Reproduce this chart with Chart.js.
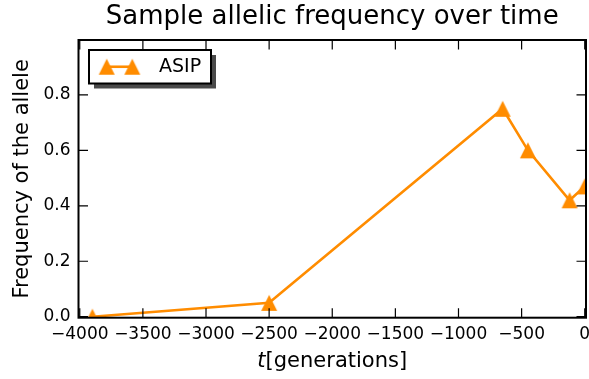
<!DOCTYPE html>
<html><head><meta charset="utf-8">
<script src="https://cdn.jsdelivr.net/npm/chart.js@4/dist/chart.umd.min.js"></script>
<style>
html,body{margin:0;padding:0;overflow:hidden;background:#fff;}
#wrap{position:relative;width:600px;height:379px;}
canvas{display:block;}
</style></head><body>
<div id="wrap"><canvas id="c" width="600" height="379"></canvas></div>
<script>
// ---- data ----
const generations = [-3900, -2500, -650, -450, -120, 0];
const asipFrequency = [0.0, 0.05, 0.75, 0.60, 0.42, 0.47];
const xTickValues = [-4000, -3500, -3000, -2500, -2000, -1500, -1000, -500, 0];
const yTickValues = [0.0, 0.2, 0.4, 0.6, 0.8];
const seriesName = 'ASIP';
const chartTitle = 'Sample allelic frequency over time';
const xTitleVar = 't';
const xTitleUnit = '[generations]';
const yTitle = 'Frequency of the allele';

const FONT = '"DejaVu Sans", sans-serif';
const ORANGE = '#FF8C00';

function makeTriangle(color) {
  const c = document.createElement('canvas');
  c.width = 18; c.height = 18;
  const g = c.getContext('2d');
  g.fillStyle = color;
  g.beginPath();
  g.moveTo(9, 1); g.lineTo(17, 17); g.lineTo(1, 17); g.closePath();
  g.fill();
  return c;
}
const tri = makeTriangle(ORANGE);

const fmtX = v => (v < 0 ? '\u2212' + Math.abs(v) : String(v));
const fmtY = v => v.toFixed(1);

const framePlugin = {
  id: 'frame',
  afterDatasetsDraw(chart) {
    const {ctx, chartArea: a, scales: {x, y}} = chart;
    const L = 9.5;
    ctx.save();
    ctx.strokeStyle = '#000';
    ctx.lineWidth = 1.2;
    ctx.beginPath();
    x.ticks.forEach(t => {
      const px = x.getPixelForValue(t.value);
      ctx.moveTo(px, a.bottom); ctx.lineTo(px, a.bottom - L);
      ctx.moveTo(px, a.top); ctx.lineTo(px, a.top + L);
    });
    y.ticks.forEach(t => {
      const py = y.getPixelForValue(t.value);
      ctx.moveTo(a.left, py); ctx.lineTo(a.left + L, py);
      ctx.moveTo(a.right, py); ctx.lineTo(a.right - L, py);
    });
    ctx.stroke();
    ctx.lineWidth = 2;
    ctx.strokeRect(a.left, a.top, a.right - a.left, a.bottom - a.top);
    ctx.restore();
  },
  afterDraw(chart) {
    const {ctx, chartArea: a, scales: {x}} = chart;
    // x axis title with italic variable
    ctx.save();
    ctx.fillStyle = '#000';
    ctx.textBaseline = 'middle';
    ctx.textAlign = 'left';
    ctx.font = 'italic 21px ' + FONT;
    const w1 = ctx.measureText(xTitleVar).width;
    ctx.font = '21px ' + FONT;
    const w2 = ctx.measureText(xTitleUnit).width;
    const cx = (a.left + a.right) / 2;
    const cy = x.bottom - 17;
    const sx = cx - (w1 + w2) / 2;
    ctx.font = 'italic 21px ' + FONT;
    ctx.fillText(xTitleVar, sx, cy);
    ctx.font = '21px ' + FONT;
    ctx.fillText(xTitleUnit, sx + w1, cy);

    // legend
    const ds = chart.data.datasets[0];
    const bx = a.left + 10.5, by = a.top + 10, bw = 122, bh = 33.5;
    ctx.fillStyle = '#4a4a4a';
    ctx.fillRect(bx + 5, by + 5, bw, bh);
    ctx.fillStyle = '#fff';
    ctx.fillRect(bx, by, bw, bh);
    ctx.lineWidth = 2;
    ctx.strokeStyle = '#000';
    ctx.strokeRect(bx, by, bw, bh);
    const ly = by + bh / 2;
    const lx1 = bx + 17.7, lx2 = bx + 43.3;
    ctx.strokeStyle = ds.borderColor;
    ctx.lineWidth = ds.borderWidth;
    ctx.beginPath(); ctx.moveTo(lx1, ly); ctx.lineTo(lx2, ly); ctx.stroke();
    ctx.drawImage(tri, lx1 - 9, ly - 9);
    ctx.drawImage(tri, lx2 - 9, ly - 9);
    ctx.fillStyle = '#000';
    ctx.font = '19px ' + FONT;
    ctx.fillText(ds.label, bx + 70, ly);
    ctx.restore();
  }
};

new Chart(document.getElementById('c'), {
  type: 'line',
  data: {
    datasets: [{
      label: seriesName,
      data: generations.map((g, i) => ({x: g, y: asipFrequency[i]})),
      borderColor: ORANGE,
      backgroundColor: ORANGE,
      borderWidth: 2.6,
      pointStyle: tri,
      pointRadius: 8,
      pointHoverRadius: 8,
      tension: 0,
      fill: false
    }]
  },
  options: {
    responsive: false,
    animation: false,
    devicePixelRatio: 1,
    events: [],
    layout: {padding: {left: 0, right: 14, top: 0, bottom: 0}},
    plugins: {
      legend: {display: false},
      tooltip: {enabled: false},
      title: {
        display: true,
        text: chartTitle,
        fullSize: false,
        color: '#000',
        font: {family: FONT, size: 26, weight: 'normal', lineHeight: 1.05},
        padding: {top: 3.5, bottom: 9.2}
      }
    },
    scales: {
      x: {
        type: 'linear',
        min: -4010, max: 10,
        grid: {display: false, drawTicks: false},
        border: {display: false},
        afterBuildTicks: s => { s.ticks = xTickValues.map(v => ({value: v})); },
        afterFit: s => { s.height = 61.3; },
        ticks: {
          autoSkip: false, maxRotation: 0, minRotation: 0,
          padding: 6.6, color: '#000',
          font: {family: FONT, size: 17},
          callback: v => fmtX(v)
        },
        title: {display: false}
      },
      y: {
        type: 'linear',
        min: -0.0036, max: 0.998,
        grid: {display: false, drawTicks: false},
        border: {display: false},
        afterBuildTicks: s => { s.ticks = yTickValues.map(v => ({value: v})); },
        afterFit: s => { s.width = 78.5; },
        ticks: {
          padding: 8, color: '#000',
          font: {family: FONT, size: 17},
          callback: v => fmtY(v)
        },
        title: {
          display: true, text: yTitle, color: '#000',
          font: {family: FONT, size: 21},
          padding: {top: 10, bottom: 0}
        }
      }
    }
  },
  plugins: [framePlugin]
});
</script>
</body></html>
